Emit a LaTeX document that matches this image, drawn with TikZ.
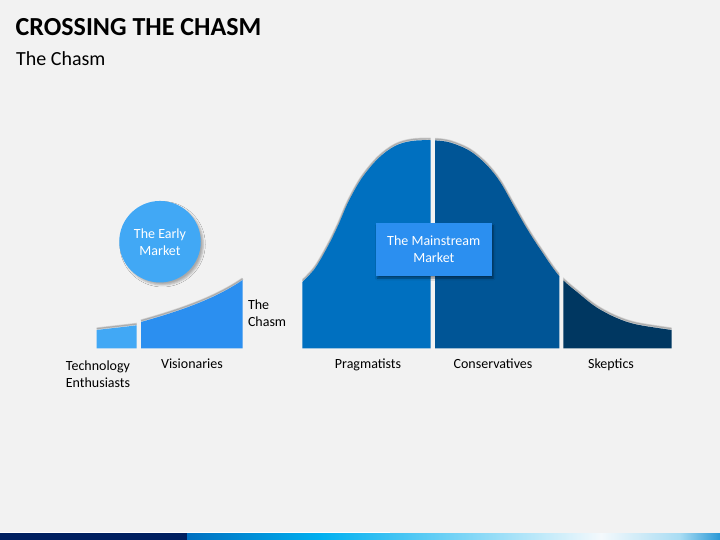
\documentclass[tikz,border=0pt]{standalone}
\usepackage{fontspec}
\setmainfont{Carlito}
\usetikzlibrary{shadows.blur}
\definecolor{bg}{HTML}{F2F2F2}
\definecolor{techc}{HTML}{41A8F5}
\definecolor{visc}{HTML}{2B8FF0}
\definecolor{pragc}{HTML}{0070C0}
\definecolor{consc}{HTML}{005596}
\definecolor{skepc}{HTML}{003761}
\definecolor{navy}{HTML}{002060}
\definecolor{bar1}{HTML}{0070C0}
\definecolor{bar2}{HTML}{00B0F0}
\definecolor{bar3}{HTML}{F4F9FC}
\definecolor{bar4}{HTML}{A8DCF3}
\definecolor{bar5}{HTML}{2A98D6}
\tikzset{
  lbl/.style={font=\fontsize{14}{17}\selectfont, inner sep=0pt, align=center, text=black},
  wlbl/.style={font=\fontsize{14}{17}\selectfont, inner sep=0pt, align=center, text=white},
  edgeshadow/.style={draw=black, line width=2.6pt, opacity=0.13},
  edgeshadowin/.style={draw=black, line width=1.2pt, opacity=0.18},
}
\begin{document}
\begin{tikzpicture}[x=1pt,y=-1pt]
\useasboundingbox (0,0) rectangle (720,540);
\fill[bg] (0,0) rectangle (720,540);

% title
\node[anchor=base west, inner sep=0pt, font=\fontsize{26}{30}\selectfont\bfseries] (title) at (15.5,36) {CROSSING THE CHASM};
\node[anchor=base west, inner sep=0pt, font=\fontsize{20}{24}\selectfont] (subtitle) at (16,65.5) {The Chasm};

% early market shapes
\def\techtop{(96.7,330) .. controls (110,328.3) and (124,327) .. (136.7,325.3)}
\def\vistop{(141,322) .. controls (180,311) and (215,299) .. (242.7,280)}
\begin{scope}[yshift=1.3pt]
  \draw[edgeshadow] \techtop;
  \draw[edgeshadowin] \techtop;
  \draw[edgeshadow] \vistop;
  \draw[edgeshadowin] \vistop;
\end{scope}
\fill[techc] (96.7,348.3) -- \techtop -- (136.7,348.3) -- cycle;
\fill[visc] (141,348.3) -- \vistop -- (242.7,348.3) -- cycle;

% circle
\node[circle, fill=techc, minimum size=81.5pt, inner sep=0pt, wlbl,
      blur shadow={shadow xshift=2.5pt, shadow yshift=-2.5pt, shadow blur radius=2pt, shadow opacity=30}]
  (early) at (160,241.7) {The Early\\Market};

% bell curve
\def\bell{plot[smooth, tension=0.55] coordinates {(302.3,282) (315,268.3) (328.3,245.5) (338.3,225) (348.3,202) (361.7,178.3) (378.3,158.3) (395,146) (411.7,141) (432.5,140.3) (450,142.5) (470,151) (486.7,165) (500,181.7) (513.3,205) (526.7,228.3) (540,249) (559.3,276.2) (580,294.5) (596.7,307.5) (616.7,318) (636.7,324.5) (671.7,330)}}
\foreach \xa/\xb/\col in {302.3/430.7/pragc, 435/559.3/consc, 563.3/671.7/skepc}{
  \begin{scope}
    \clip (\xa,100) rectangle (\xb,348.3);
    \begin{scope}[yshift=1.3pt]
      \draw[edgeshadow] \bell;
      \draw[edgeshadowin] \bell;
    \end{scope}
    \fill[\col] \bell -- (671.7,348.3) -- (302.3,348.3) -- cycle;
  \end{scope}
}

% mainstream box
\node[rectangle, fill=visc, minimum width=115.7pt, minimum height=52.4pt, inner sep=0pt, wlbl,
      blur shadow={shadow xshift=1.5pt, shadow yshift=-2.5pt, shadow blur radius=2pt, shadow opacity=45}]
  (mainstream) at (433.8,249.5) {The Mainstream\\Market};

% chasm label
\node[lbl, align=left, anchor=west] (chasm) at (247.8,313.3) {The\\Chasm};

% bottom labels
\node[lbl] (tech) at (98,374.5) {Technology\\Enthusiasts};
\node[lbl, anchor=base] (vis) at (192,368.8) {Visionaries};
\node[lbl, anchor=base] (prag) at (368,368.8) {Pragmatists};
\node[lbl, anchor=base] (cons) at (493,368.8) {Conservatives};
\node[lbl, anchor=base] (skep) at (611,368.8) {Skeptics};

% bottom bar
\draw[white, line width=0.8pt] (0,532.6) -- (390,532.6);
\fill[navy] (0,533.3) rectangle (187.5,540);
\shade[left color=bar1, right color=bar2] (187,533.3) rectangle (321.5,540);
\shade[left color=bar2, right color=bar3] (321,533.3) rectangle (601.5,540);
\shade[left color=bar3, right color=bar4] (601,533.3) rectangle (680.5,540);
\shade[left color=bar4, right color=bar5] (680,533.3) rectangle (720,540);
\end{tikzpicture}
\end{document}
